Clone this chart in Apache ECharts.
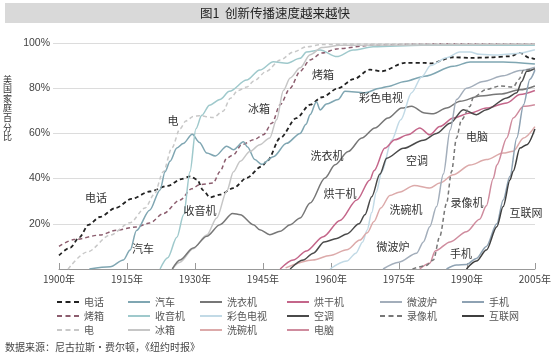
<!DOCTYPE html>
<html><head><meta charset="utf-8">
<script src="https://cdn.jsdelivr.net/npm/echarts/dist/echarts.min.js"></script>
<style>html,body{margin:0;padding:0;background:#fff}#c{width:554px;height:363px}</style>
</head><body><div id="c"></div>
<script>
const FONT = '"Noto Sans CJK SC","Noto Sans",sans-serif';
const title = '图1  创新传播速度越来越快';
const source = '数据来源：尼古拉斯·费尔顿，《纽约时报》';
const yName = '美国家庭百分比';
const xStart = 1900, xEnd = 2005, xStep = 15;

// [year, percent of US households]
const telephone = [[1900,6],[1902.5,9.5],[1904.5,14],[1906.5,19.5],[1909,23],[1912.5,27],[1916,31],[1920,34.3],[1924,36.8],[1927,39.8],[1929,41],[1930.5,39.5],[1931.8,34.8],[1933.3,31.7],[1935.5,32.9],[1938.5,35.8],[1941.4,40.3],[1944.7,45.4],[1946,48],[1948.8,58],[1952.4,66.8],[1955.4,72.7],[1958,76],[1961.6,80],[1965,84],[1968.6,88.2],[1971.2,87.5],[1976.3,91.2],[1980.7,91.2],[1982,91],[1987,93.7],[1990.7,93.4],[1995,93.6],[1999.5,94.1],[2001.7,95.6],[2003.9,93.4],[2005,92.9]];
const stove = [[1900,10],[1903.3,13],[1909,15],[1912.7,17.2],[1917,18.6],[1920,20.3],[1923,24.5],[1926.7,30.5],[1929.3,35.5],[1931,37.3],[1934,38],[1935.5,43],[1937,49],[1938.5,50.6],[1940.3,55],[1943,57.2],[1945.1,59.4],[1947,64.6],[1948.8,72.7],[1951,80],[1953.2,87.5],[1955.4,92.5],[1958,95.6],[1961.6,97.5],[1969,99],[1980,99.5],[2005,99.6]];
const electricity = [[1902,0],[1906.2,7.5],[1911.3,15],[1915.7,20.5],[1919,27],[1921,33],[1923,43],[1924.9,53.5],[1926.7,62],[1928,65.5],[1929.6,67.5],[1931,67.8],[1934,67],[1936.2,69.8],[1937.8,75.5],[1939.5,79],[1941.4,80.5],[1943,83.2],[1945.8,87.5],[1948.8,92.5],[1951.7,96],[1954.6,98.3],[1958,99.3],[1965,99.6],[2005,99.6]];
const automobile = [[1906.7,0],[1911.3,1],[1914.2,4],[1915.7,8.4],[1917.1,17],[1920,26],[1922.3,35],[1923.4,43],[1924.5,47.7],[1926,53.5],[1927.4,55.5],[1929.4,59.6],[1931,56],[1932.6,51.3],[1934.5,50],[1937,54.3],[1938.5,52.8],[1940.7,56.3],[1941.6,54],[1943.2,48.4],[1944.7,46.3],[1947.3,49.7],[1950.2,55.6],[1953.2,60],[1954.5,64],[1955.4,68.3],[1956.8,74],[1957.6,70.4],[1959,73],[1961.6,75],[1963.1,78.6],[1967.5,78],[1970.8,80],[1972.6,80.8],[1976.3,83],[1980.7,85.3],[1987,89.7],[1990.7,91.6],[1998,91.6],[2005,90.7]];
const radio = [[1922.3,0],[1924,5],[1926,14],[1927.5,24],[1928.9,43],[1930.2,62],[1931.5,68],[1933.2,72.5],[1935.5,75],[1937.6,78.6],[1941.4,83.6],[1944.3,88],[1947.3,91.7],[1950.2,91],[1953.2,93.2],[1954.6,96],[1957.6,96.9],[1961.3,94],[1964.9,96.9],[1969.3,98.3],[1980,99],[2005,99]];
const refrigerator = [[1925,0],[1926.7,3],[1929.6,9],[1932.6,15],[1934.8,22.6],[1937,34.4],[1938.5,43],[1940,47.7],[1942.1,52],[1944.3,55],[1946.5,58],[1948,66],[1949.5,79],[1951,84.5],[1953.2,89],[1955.4,94.8],[1958,98],[1962,99],[2005,99.5]];
const washer = [[1925,0],[1926.7,4],[1929.6,9.3],[1932.6,14.5],[1935.5,19.6],[1938.3,24.6],[1940,24],[1942.9,19.6],[1944.3,17.4],[1946.5,15.2],[1948.8,16.7],[1951,19.6],[1953.2,22.6],[1955.4,29.2],[1958.7,40.3],[1960.9,46.1],[1963.8,52],[1966.8,58],[1969.7,62.4],[1972.6,66.8],[1975.6,71.2],[1977.8,72],[1980.7,69],[1982.6,68.7],[1985.5,71.2],[1988.5,74.2],[1992.9,76.6],[1997.3,77.4],[2001.7,79.3],[2005,81]];
const colorTV = [[1959.8,0],[1963.5,3.5],[1965.5,7],[1967,12],[1968,17.3],[1969,25],[1970,34],[1971.2,43],[1973.4,57],[1975.4,66],[1977.8,78],[1980,85],[1982,90],[1985.5,93.5],[1988.4,96],[1990.7,96],[1992.8,95],[1996.6,94.7],[2001,95.4],[2005,97]];
const dishwasher = [[1950,0.5],[1956,4],[1959.8,6],[1963.5,8.5],[1966.4,12.8],[1968,16],[1969.5,21],[1971,27],[1973,32.5],[1975,34],[1978.4,37],[1981.8,35.8],[1984,38],[1987,41.7],[1990.7,46],[1994.3,48.4],[1998,51.3],[2000.2,52.1],[2002.5,58],[2005,63]];
const dryer = [[1948.8,0],[1951.7,4],[1954.6,8],[1958.3,14.3],[1962,21.5],[1965.7,30.5],[1968.6,39.4],[1969.5,43.5],[1971.9,53.5],[1974.1,57.2],[1977,59.4],[1979.6,62.4],[1981.8,59.4],[1984,63],[1987,66.8],[1990.7,69],[1994.3,71.2],[1998.8,73.5],[2001.7,77.2],[2005,79]];
const airCon = [[1951,0],[1953.9,4],[1956.1,7],[1958.5,12],[1961.3,13.5],[1963.5,15.5],[1966.2,20],[1967.5,24],[1969,32],[1970.8,42],[1972.3,49],[1976,53.4],[1980.4,57],[1983.3,60],[1986.3,64.5],[1989.2,70.5],[1992.1,68.3],[1994.3,70.5],[1998.8,75.7],[2001,78],[2002.1,83],[2003.2,87.5],[2005,88.6]];
const computer = [[1979.6,0],[1981.8,2.5],[1983,8],[1986.3,12],[1989.9,16.5],[1992.8,22],[1994.3,28],[1995.8,40],[1996.6,46],[1998.8,58],[2000.2,66.8],[2002.5,72],[2005,72.7]];
const vcr = [[1978,0],[1981,1.5],[1982.6,4],[1984,14.3],[1985.5,29],[1986.6,43],[1987.7,58],[1988.8,66],[1990.7,72],[1991.4,76],[1994.3,79.5],[1997.3,81],[2000.2,80.5],[2001.5,84],[2002.5,88],[2005,88.6]];
const microwave = [[1971.5,0],[1975,3],[1978.9,7],[1980.4,12],[1981.8,18.7],[1983.3,27.6],[1984.8,42],[1986.3,61.5],[1987.7,75],[1989.9,80],[1993.6,83],[1998,85.5],[2001.7,87.8],[2005,89.3]];
const cellPhone = [[1985.5,0],[1987.7,1.8],[1989.9,2],[1992.1,4.7],[1994.3,10],[1996.6,20],[1998,30.5],[1999.5,41],[2001,58],[2002.5,72.7],[2003.9,84],[2005,88]];
const internet = [[1989.9,0],[1992.1,3.5],[1994.3,8.4],[1996.6,18.7],[1998,27.6],[1999.5,39.4],[2000.2,43.2],[2001.7,53.5],[2003.2,55],[2005,62]];

const defs = [
  {name:'电话', data:telephone, color:'#222222', dash:[4,3], w:1.8},
  {name:'烤箱', data:stove, color:'#8c5d6e', dash:[4,3], w:1.5},
  {name:'电', data:electricity, color:'#c8c8c8', dash:[4,3], w:1.5},
  {name:'汽车', data:automobile, color:'#7fa6b2', w:1.5},
  {name:'收音机', data:radio, color:'#9fc9cc', w:1.5},
  {name:'冰箱', data:refrigerator, color:'#c6c6c6', w:1.5},
  {name:'洗衣机', data:washer, color:'#777777', w:1.5},
  {name:'彩色电视', data:colorTV, color:'#c2dae6', w:1.5},
  {name:'洗碗机', data:dishwasher, color:'#dcaaaa', w:1.5},
  {name:'烘干机', data:dryer, color:'#c4668a', w:1.5},
  {name:'空调', data:airCon, color:'#4a4a4a', w:1.5},
  {name:'电脑', data:computer, color:'#cf8c9e', w:1.5},
  {name:'微波炉', data:microwave, color:'#a3aebb', w:1.5},
  {name:'录像机', data:vcr, color:'#777777', dash:[4,3], w:1.5},
  {name:'手机', data:cellPhone, color:'#8ea2b3', w:1.5},
  {name:'互联网', data:internet, color:'#3f3f3f', w:1.5}
];

const legendCols = [['电话','烤箱','电'],['汽车','收音机','冰箱'],['洗衣机','彩色电视','洗碗机'],['烘干机','空调','电脑'],['微波炉','录像机'],['手机','互联网']];
const legendLeft = [52,123,195,282,375,457];
const ICON_SOLID = 'path://M0,0H22V2H0Z';
const ICON_DASH = 'path://M0,0H5V2H0Z M8.5,0H13.5V2H8.5Z M17,0H22V2H17Z';

const labels = [
  ['电话',96,198],['汽车',143,249],['电',173,121],['收音机',200,211],['冰箱',259,109],['烤箱',323,75],
  ['彩色电视',381,98],['洗衣机',327,156],['烘干机',340,194],['空调',417,161],['电脑',477,137],
  ['洗碗机',406,210],['录像机',467,203],['微波炉',393,247],['手机',461,254],['互联网',526,213]
];

const chart = echarts.init(document.getElementById('c'), null, {renderer:'canvas'});
const graphics = [
  {type:'rect', shape:{x:5,y:3,width:544,height:20}, style:{fill:'#d9d9d9'}, z:0},
  {type:'text', x:275, y:13, style:{text:title, fill:'#222', font:'12.5px '+FONT, textAlign:'center', textVerticalAlign:'middle'}},
  {type:'text', x:5, y:347, style:{text:source, fill:'#444', font:'10px '+FONT, textAlign:'left', textVerticalAlign:'middle'}}
];
labels.forEach(l => graphics.push({type:'text', x:l[1], y:l[2], z:100, style:{text:l[0], fill:'#333', font:'11px '+FONT, textAlign:'center', textVerticalAlign:'middle'}}));

const dashedNames = defs.filter(d => d.dash).map(d => d.name);

chart.setOption({
  animation:false,
  textStyle:{fontFamily:FONT},
  grid:[
    {left:53, right:19, top:43, bottom:94},
    {left:59, right:19, top:43, bottom:94},
    {left:53, right:19, top:74, bottom:221}
  ],
  xAxis:[
    {gridIndex:0, type:'value', min:0, max:1, show:false},
    {gridIndex:1, type:'value', min:0, max:xEnd-xStart, interval:xStep,
     axisLine:{lineStyle:{color:'#999', width:1}},
     axisTick:{inside:true, length:6, lineStyle:{color:'#999'}},
     axisLabel:{formatter:v => (xStart+v)+'年', fontSize:10, color:'#444', margin:5, fontFamily:FONT},
     splitLine:{show:false}},
    {gridIndex:2, type:'value', min:0, max:1, show:false}
  ],
  yAxis:[
    {gridIndex:0, type:'value', min:0, max:100, interval:20,
     axisLine:{show:false}, axisTick:{show:false},
     axisLabel:{formatter:v => v===0 ? '' : v+'%', fontSize:10.5, color:'#444', margin:3, fontFamily:'"Liberation Sans",Arial,sans-serif'},
     splitLine:{lineStyle:{color:['transparent','#dcdcdc','#dcdcdc','#dcdcdc','#dcdcdc','#dcdcdc'], width:1}}},
    {gridIndex:1, type:'value', min:0, max:100, show:false, splitLine:{show:false}},
    {gridIndex:2, type:'value', min:0, max:1,
     name: yName.split('').join('\n'), nameLocation:'middle', nameRotate:0, nameGap:42,
     nameTextStyle:{fontSize:9, lineHeight:9.6, color:'#333', fontFamily:FONT},
     axisLine:{show:false}, axisTick:{show:false}, axisLabel:{show:false}, splitLine:{show:false}}
  ],
  legend: legendCols.map((col,i) => ({
    data:col.map(n => ({name:n, icon: dashedNames.includes(n) ? ICON_DASH : ICON_SOLID})),
    orient:'vertical', left:legendLeft[i], top:292, itemWidth:22, itemHeight:10, itemGap:4,
    selectedMode:false, textStyle:{fontSize:10, color:'#555', fontFamily:FONT}
  })),
  graphic: graphics,
  series: defs.map((d,i) => ({
    type:'line', name:d.name, xAxisIndex:1, yAxisIndex:1, symbol:'none',
    smooth:0.3, smoothMonotone:'x', z: 2,
    data: d.data.map(p => [p[0]-xStart, p[1]]),
    lineStyle:{color:d.color, width:d.w, type:d.dash || 'solid'},
    itemStyle:{color:d.color}
  }))
});
</script>
</body></html>
